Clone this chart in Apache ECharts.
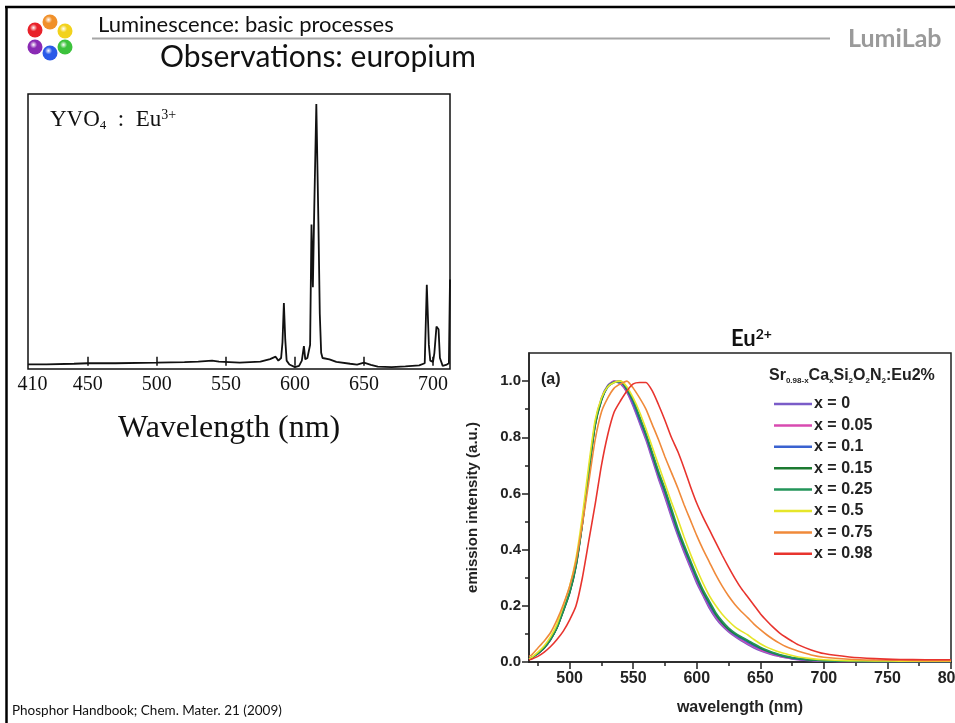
<!DOCTYPE html>
<html>
<head>
<meta charset="utf-8">
<script src="https://cdn.jsdelivr.net/npm/echarts@6/dist/echarts.min.js"></script>
<style>
  html, body { margin: 0; padding: 0; background: #fff; }
  #main { width: 955px; height: 723px; }
</style>
</head>
<body>
<div id="main"></div>
<script>
// ---- YVO4:Eu3+ spectrum (left panel), relative intensity ----
const eu3Wl = [406.7, 420, 440, 450, 470, 500, 520, 530, 540, 545, 560, 575, 582, 586, 588, 590, 591, 592, 593, 594, 596, 600, 603,
  605, 606.5, 607.5, 609, 611, 612, 613, 614, 615.5, 617, 618, 619, 620, 625, 630, 640, 645, 650, 655, 660, 670, 680, 690,
  694, 695.5, 697, 698, 700, 701, 702.5, 704, 705, 707, 710, 711.5, 712.3];
const eu3Int = [0.6, 0.6, 0.8, 1.0, 1.0, 1.2, 1.4, 1.6, 2.0, 1.6, 1.2, 1.6, 2.6, 3.5, 2.0, 3.0, 9, 24, 10, 2, 0.5, -0.5, 0,
  2, 7.5, 2.5, 3, 8, 54, 30, 60, 100, 55, 20, 5, 3, 2.5, 1.5, 0.8, 0.5, 1.2, 0.4, -0.3, -0.5, -0.2, 0.2,
  1, 31, 8, 2, 1.5, 5, 15, 14, 3, 0, 0.5, 1, 33];
const eu3LabelVals = [410, 450, 500, 550, 600, 650, 700];
const eu3TickVals = [450, 500, 550, 600, 650, 700];

// ---- Sr(0.98-x)CaxSi2O2N2:Eu2% emission (right panel) ----
const eu2Wl = [468, 470, 475, 480, 485, 490, 495, 500, 505, 510, 515, 520, 525, 530, 535, 540, 545, 550, 555, 560, 565, 570,
  575, 580, 585, 590, 595, 600, 605, 610, 615, 620, 625, 630, 635, 640, 645, 650, 655, 660, 665, 670, 675, 680,
  690, 700, 720, 740, 760, 780, 800];
const x0 = [0.01, 0.014, 0.03, 0.05, 0.08, 0.125, 0.185, 0.25, 0.35, 0.50, 0.68, 0.85, 0.94, 0.985, 1.0, 0.99, 0.96, 0.91, 0.85, 0.79, 0.72, 0.65,
  0.585, 0.515, 0.45, 0.39, 0.335, 0.28, 0.235, 0.19, 0.155, 0.128, 0.107, 0.09, 0.075, 0.062, 0.05, 0.04, 0.032, 0.025, 0.02, 0.015, 0.011, 0.008,
  0.005, 0.003, 0.002, 0.002, 0.002, 0.002, 0.002];
const x005 = [0.01, 0.015, 0.03, 0.05, 0.08, 0.123, 0.183, 0.248, 0.345, 0.495, 0.675, 0.845, 0.935, 0.983, 1.0, 0.993, 0.963, 0.915, 0.855, 0.797, 0.728, 0.657,
  0.592, 0.523, 0.457, 0.397, 0.341, 0.287, 0.24, 0.196, 0.16, 0.133, 0.111, 0.094, 0.079, 0.066, 0.054, 0.043, 0.035, 0.027, 0.021, 0.016, 0.012, 0.009,
  0.006, 0.004, 0.002, 0.002, 0.002, 0.002, 0.002];
const x01 = [0.01, 0.015, 0.03, 0.05, 0.08, 0.122, 0.182, 0.246, 0.342, 0.492, 0.672, 0.842, 0.932, 0.98, 0.997, 0.997, 0.967, 0.92, 0.86, 0.803, 0.733, 0.663,
  0.6, 0.53, 0.462, 0.403, 0.347, 0.293, 0.245, 0.202, 0.165, 0.137, 0.114, 0.097, 0.083, 0.07, 0.058, 0.047, 0.038, 0.03, 0.023, 0.018, 0.013, 0.01,
  0.007, 0.005, 0.003, 0.002, 0.002, 0.002, 0.002];
const x015 = [0.01, 0.015, 0.03, 0.05, 0.08, 0.12, 0.18, 0.245, 0.34, 0.49, 0.67, 0.84, 0.93, 0.98, 0.995, 1.0, 0.97, 0.93, 0.87, 0.81, 0.74, 0.67,
  0.61, 0.54, 0.47, 0.41, 0.355, 0.30, 0.25, 0.21, 0.17, 0.14, 0.117, 0.1, 0.087, 0.075, 0.062, 0.05, 0.04, 0.032, 0.025, 0.019, 0.015, 0.012,
  0.007, 0.005, 0.003, 0.002, 0.002, 0.002, 0.002];
const x025 = [0.011, 0.016, 0.032, 0.052, 0.082, 0.122, 0.183, 0.25, 0.345, 0.495, 0.675, 0.845, 0.935, 0.982, 0.997, 0.998, 0.973, 0.933, 0.875, 0.815, 0.747, 0.678,
  0.617, 0.548, 0.478, 0.418, 0.362, 0.307, 0.257, 0.216, 0.176, 0.146, 0.122, 0.104, 0.09, 0.078, 0.065, 0.053, 0.043, 0.034, 0.027, 0.021, 0.016, 0.013,
  0.008, 0.005, 0.003, 0.002, 0.002, 0.002, 0.002];
const x05 = [0.012, 0.016, 0.035, 0.058, 0.09, 0.135, 0.2, 0.27, 0.37, 0.52, 0.70, 0.86, 0.94, 0.98, 0.995, 1.0, 0.98, 0.94, 0.89, 0.83, 0.765, 0.70,
  0.635, 0.57, 0.51, 0.445, 0.385, 0.33, 0.28, 0.235, 0.20, 0.17, 0.146, 0.125, 0.11, 0.097, 0.08, 0.065, 0.053, 0.044, 0.036, 0.029, 0.023, 0.018,
  0.012, 0.008, 0.005, 0.004, 0.003, 0.003, 0.003];
const x075 = [0.02, 0.025, 0.05, 0.075, 0.105, 0.15, 0.205, 0.27, 0.36, 0.49, 0.64, 0.79, 0.89, 0.94, 0.975, 0.99, 1.0, 0.975, 0.94, 0.9, 0.845, 0.79,
  0.73, 0.675, 0.62, 0.56, 0.505, 0.45, 0.4, 0.355, 0.31, 0.27, 0.235, 0.205, 0.18, 0.158, 0.135, 0.115, 0.097, 0.081, 0.067, 0.055, 0.046, 0.038,
  0.025, 0.017, 0.01, 0.007, 0.006, 0.005, 0.005];
const x098 = [0.008, 0.01, 0.02, 0.035, 0.055, 0.08, 0.11, 0.15, 0.2, 0.3, 0.43, 0.56, 0.70, 0.81, 0.89, 0.93, 0.965, 0.99, 0.995, 0.995, 0.965, 0.915,
  0.86, 0.8, 0.75, 0.69, 0.625, 0.565, 0.515, 0.47, 0.425, 0.38, 0.338, 0.298, 0.262, 0.232, 0.202, 0.172, 0.147, 0.124, 0.104, 0.088, 0.074, 0.061,
  0.043, 0.03, 0.018, 0.012, 0.009, 0.008, 0.008];

const seriesNames = ['x = 0', 'x = 0.05', 'x = 0.1', 'x = 0.15', 'x = 0.25', 'x = 0.5', 'x = 0.75', 'x = 0.98'];
const seriesValues = [x0, x005, x01, x015, x025, x05, x075, x098];
const seriesColors = ['#7a5cc8', '#d84ab0', '#3a62d0', '#1c7a30', '#23955a', '#e6e62a', '#f08a3a', '#e8342e'];

const eu2LabelVals = [500, 550, 600, 650, 700, 750, 800];
const eu2MinorVals = [475, 525, 575, 625, 675, 725, 775];
const yLabelVals = [0, 0.2, 0.4, 0.6, 0.8, 1.0];
const yMinorVals = [0.1, 0.3, 0.5, 0.7, 0.9];

const bold = 'Liberation Sans';
const serif = 'Liberation Serif';
const slideFont = 'Lato';

const chart = echarts.init(document.getElementById('main'));

const eu2Series = seriesNames.map((name, i) => ({
  name: name,
  type: 'line',
  xAxisIndex: 1,
  yAxisIndex: 1,
  symbol: 'none',
  smooth: 0.2,
  data: eu2Wl.map((w, j) => [w, seriesValues[i][j]]),
  lineStyle: { width: 1.6, color: seriesColors[i] },
  itemStyle: { color: seriesColors[i] },
  z: 3 + i
}));

// logo dots
const dots = [
  [50, 22, '#f0902a'], [65, 31, '#f2d21c'], [65, 47, '#3cc23c'],
  [50, 53, '#2a5ae8'], [35, 47, '#8a2ab4'], [35, 30, '#e8222a']
];
const logo = dots.map(d => ({
  type: 'circle',
  shape: { cx: d[0], cy: d[1], r: 7.5 },
  style: {
    fill: new echarts.graphic.RadialGradient(0.4, 0.35, 0.7, [
      { offset: 0, color: '#ffffff' },
      { offset: 0.35, color: d[2] },
      { offset: 1, color: d[2] }
    ])
  }
}));

chart.setOption({
  backgroundColor: '#fff',
  animation: false,
  grid: [
    { left: 28, top: 94, width: 422, height: 275, outerBoundsMode: 'none', containLabel: false,
      show: true, borderColor: '#111', borderWidth: 1.5, backgroundColor: 'transparent' },
    { left: 529, top: 353, width: 422, height: 309, outerBoundsMode: 'none', containLabel: false,
      show: true, borderColor: '#222', borderWidth: 1.5, backgroundColor: 'transparent' }
  ],
  xAxis: [
    {
      gridIndex: 0, type: 'value', min: 406.7, max: 712.3, position: 'bottom',
      axisLine: { show: false },
      axisTick: { show: true, inside: true, length: 9, customValues: eu3TickVals, lineStyle: { color: '#111', width: 1.5 } },
      axisLabel: { customValues: eu3LabelVals, fontFamily: serif, fontSize: 20, color: '#111', margin: 6 },
      splitLine: { show: false }
    },
    {
      gridIndex: 1, type: 'value', min: 468, max: 800, position: 'bottom',
      axisLine: { show: true, onZero: false, lineStyle: { color: '#222', width: 1.5 } },
      axisTick: { show: true, inside: false, length: 7, customValues: eu2LabelVals, lineStyle: { color: '#222', width: 1.5 } },
      axisLabel: { customValues: eu2LabelVals, fontFamily: bold, fontWeight: 'bold', fontSize: 16, color: '#222', margin: 9 },
      splitLine: { show: false },
      name: 'wavelength (nm)', nameLocation: 'middle', nameGap: 38,
      nameTextStyle: { fontFamily: bold, fontWeight: 'bold', fontSize: 16, color: '#222' }
    },
    {
      gridIndex: 1, type: 'value', min: 468, max: 800, position: 'bottom', offset: 0,
      axisLine: { show: false, onZero: false },
      axisTick: { show: true, inside: false, length: 4, customValues: eu2MinorVals, lineStyle: { color: '#222', width: 1.5 } },
      axisLabel: { show: false },
      splitLine: { show: false }
    }
  ],
  yAxis: [
    { gridIndex: 0, type: 'value', min: -1.2, max: 103.8, show: false, splitLine: { show: false } },
    {
      gridIndex: 1, type: 'value', min: 0, max: 1.1, position: 'left',
      axisLine: { show: true, onZero: false, lineStyle: { color: '#222', width: 1.5 } },
      axisTick: { show: true, inside: false, length: 7, customValues: yLabelVals, lineStyle: { color: '#222', width: 1.5 } },
      axisLabel: { customValues: yLabelVals, formatter: v => v.toFixed(1), fontFamily: bold, fontWeight: 'bold', fontSize: 15, color: '#222', margin: 8 },
      splitLine: { show: false },
      name: 'emission intensity (a.u.)', nameLocation: 'middle', nameGap: 49,
      nameTextStyle: { fontFamily: bold, fontWeight: 'bold', fontSize: 15, color: '#222' }
    },
    {
      gridIndex: 1, type: 'value', min: 0, max: 1.1, position: 'left', offset: 0,
      axisLine: { show: false, onZero: false },
      axisTick: { show: true, inside: false, length: 4, customValues: yMinorVals, lineStyle: { color: '#222', width: 1.5 } },
      axisLabel: { show: false },
      splitLine: { show: false }
    }
  ],
  legend: {
    data: seriesNames,
    orient: 'vertical',
    left: 769, top: 391,
    icon: 'rect',
    itemWidth: 38, itemHeight: 2.5, itemGap: 5.4,
    textStyle: { fontFamily: bold, fontWeight: 'bold', fontSize: 16, lineHeight: 15, color: '#222', padding: [0, 0, 0, -3] }
  },
  series: [
    {
      name: 'YVO4:Eu3+',
      type: 'line',
      xAxisIndex: 0,
      yAxisIndex: 0,
      symbol: 'none',
      data: eu3Wl.map((w, i) => [w, eu3Int[i]]),
      lineStyle: { width: 1.8, color: '#111' }
    }
  ].concat(eu2Series),
  graphic: [
    // slide frame
    { type: 'line', shape: { x1: 5, y1: 7, x2: 955, y2: 7 }, style: { stroke: '#000', lineWidth: 2.5 } },
    { type: 'line', shape: { x1: 6.5, y1: 6, x2: 6.5, y2: 723 }, style: { stroke: '#000', lineWidth: 2.5 } },
    // header
    { type: 'line', shape: { x1: 92, y1: 38.5, x2: 830, y2: 38.5 }, style: { stroke: '#a6a6a6', lineWidth: 2 } },
    { type: 'text', left: 98, top: 14, style: { text: 'Luminescence: basic processes', font: '22px ' + slideFont, fill: '#111' } },
    { type: 'text', left: 160, top: 42, style: { text: 'Observations: europium', font: '30px ' + slideFont, fill: '#111' } },
    { type: 'text', left: 848, top: 26, style: { text: 'LumiLab', font: 'bold 25px ' + slideFont, fill: '#9a9a9a' } },
    { type: 'text', left: 12, top: 704, style: { text: 'Phosphor Handbook; Chem. Mater. 21 (2009)', font: '13.5px ' + slideFont, fill: '#111' } },
    // left panel labels
    {
      type: 'text', left: 50, top: 108,
      style: {
        text: 'YVO{sub|4}  :  Eu{sup|3+}',
        font: '23px ' + serif, fill: '#111',
        rich: {
          sub: { fontSize: 13, fontFamily: serif, padding: [11, 0, 0, 0] },
          sup: { fontSize: 14, fontFamily: serif, padding: [0, 0, 10, 0] }
        }
      }
    },
    { type: 'text', left: 118, top: 413, style: { text: 'Wavelength (nm)', font: '32px ' + serif, fill: '#111' } },
    // right panel labels
    {
      type: 'text', left: 731, top: 327,
      style: {
        text: 'Eu{sup|2+}',
        font: 'bold 22px ' + slideFont, fill: '#111',
        rich: { sup: { fontSize: 14, fontWeight: 'bold', fontFamily: slideFont, padding: [0, 0, 10, 0] } }
      }
    },
    { type: 'text', left: 541, top: 372, style: { text: '(a)', font: 'bold 16px ' + bold, fill: '#222' } },
    {
      type: 'text', left: 769, top: 368,
      style: {
        text: 'Sr{sub|0.98-x}Ca{sub|x}Si{sub|2}O{sub|2}N{sub|2}:Eu2%',
        font: 'bold 16px ' + bold, fill: '#222',
        rich: { sub: { fontSize: 8, fontWeight: 'bold', fontFamily: bold, padding: [10, 0, 0, 0] } }
      }
    }
  ].concat(logo)
});
</script>
</body>
</html>
